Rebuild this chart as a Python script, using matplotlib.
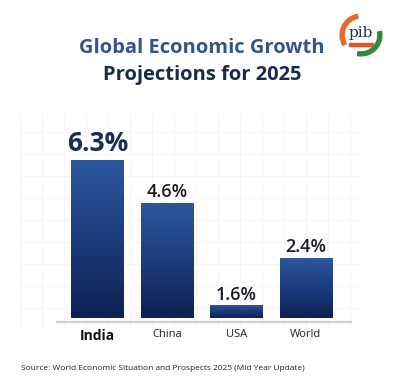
import numpy as np
import matplotlib
matplotlib.use('Agg')
import matplotlib.pyplot as plt
from matplotlib.colors import LinearSegmentedColormap
from matplotlib.patches import Circle, Wedge

# data
countries = ['India', 'China', 'USA', 'World']
growth_labels = ['6.3%', '4.6%', '1.6%', '2.4%']
# drawn bar heights as they appear (USA bar is drawn short in the source)
bar_heights = [6.3, 4.6, 0.52, 2.4]

title_top = 'Global Economic Growth'
title_bottom = 'Projections for 2025'
source_text = 'Source: World Economic Situation and Prospects 2025 (Mid Year Update)'

W, H = 414, 377
plt.rcParams['font.family'] = ['Open Sans', 'DejaVu Sans']

fig = plt.figure(figsize=(W / 100, H / 100), dpi=100)
fig.patch.set_facecolor('white')

# faint background grid
bg = fig.add_axes([20 / W, (H - 330) / H, 340 / W, 215 / H])
bg.set_xlim(0, 340)
bg.set_ylim(0, 215)
for gx in np.arange(0, 341, 22):
    bg.axvline(gx, color='#f6f6f8', lw=0.8, zorder=0)
for gy in np.arange(0, 216, 22):
    bg.axhline(gy, color='#f6f6f8', lw=0.8, zorder=0)
bg.axis('off')

# main bar axes: left 57px, right 351px, bottom spine at y=322px
ax = fig.add_axes([57 / W, (H - 322) / H, 294 / W, 182 / H])
ax.patch.set_alpha(0)

x = np.arange(len(countries))
bar_w = 0.75
cmap = LinearSegmentedColormap.from_list('barfade', ['#0d2152', '#1c3c7c', '#2c579e'])
grad = np.linspace(0, 1, 256).reshape(-1, 1)

bars = ax.bar(x, bar_heights, width=bar_w, color='none', edgecolor='none')
for b in bars:
    x0, y0 = b.get_x(), b.get_y()
    im = ax.imshow(grad, cmap=cmap, origin='lower', aspect='auto',
                   extent=[x0, x0 + b.get_width(), y0, y0 + b.get_height()], zorder=2)
    im.set_clip_path(b)

for i, (h, lab) in enumerate(zip(bar_heights, growth_labels)):
    big = i == 0
    ax.annotate(lab, xy=(i, h), xytext=(0, 2 if big else 1), textcoords='offset points',
                ha='center', va='bottom', fontsize=19 if big else 13,
                fontweight='bold' if big else 'semibold',
                color='#1b2d55' if big else '#1a1a2a')

ax.set_xlim(-0.583, 3.65)
ax.set_ylim(-0.16, 7.1)

for s in ['top', 'right', 'left']:
    ax.spines[s].set_visible(False)
ax.spines['bottom'].set_color('#cfcfd2')
ax.spines['bottom'].set_linewidth(1.6)
ax.set_yticks([])
ax.set_xticks(x)
ax.set_xticklabels(countries)
ax.tick_params(axis='x', length=0, pad=5)
for i, t in enumerate(ax.get_xticklabels()):
    if i == 0:
        t.set_fontsize(10)
        t.set_fontweight('bold')
        t.set_color('#111111')
    else:
        t.set_fontsize(8)
        t.set_color('#222222')

# title
fig.text(202 / W, 1 - 48 / H, title_top, ha='center', va='center',
         fontsize=14.5, fontweight='bold', color='#34558a')
fig.text(202 / W, 1 - 75 / H, title_bottom, ha='center', va='center',
         fontsize=14.5, fontweight='bold', color='#1b2a4c')

# source line
fig.text(21 / W, 1 - 369 / H, source_text, ha='left', va='center',
         fontsize=6, color='#222222')

# small pib badge in the top right
logo = fig.add_axes([339 / W, 1 - 57 / H, 44 / W, 44 / H])
logo.set_xlim(-1, 1)
logo.set_ylim(-1, 1)
logo.set_aspect('equal')
logo.add_patch(Circle((0, 0), 0.95, color='white', zorder=0))
logo.add_patch(Wedge((0, 0), 0.95, 100, 210, width=0.18, color='#e8692c', zorder=1))
logo.add_patch(Wedge((0, 0), 0.95, 260, 10, width=0.18, color='#2e8b3e', zorder=1))
logo.text(0, 0.08, 'pib', ha='center', va='center', fontsize=11,
          color='#1b2d55', family=['DejaVu Serif'])
logo.add_patch(plt.Rectangle((-0.55, -0.5), 1.1, 0.13, color='#d9532b', zorder=2))
logo.axis('off')

fig.savefig('out.png', dpi=100, facecolor='white')
